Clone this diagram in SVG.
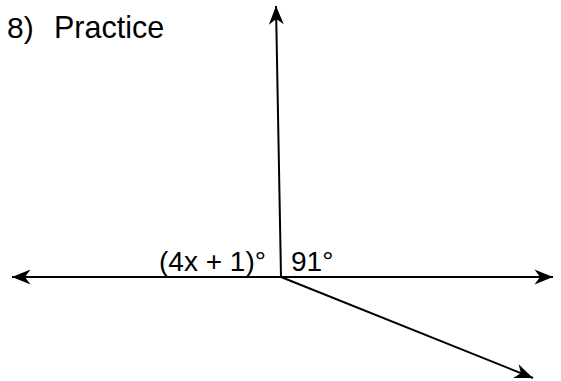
<svg xmlns="http://www.w3.org/2000/svg" width="561" height="381" viewBox="0 0 561 381">
<style>
.ray{stroke:#000;stroke-width:2;fill:none;marker-end:url(#arr)}
text{font-family:"Liberation Sans",Arial,sans-serif;fill:#000}
</style>
<defs>
<marker id="arr" markerUnits="userSpaceOnUse" markerWidth="24" markerHeight="20" refX="19" refY="8" orient="auto" viewBox="0 0 24 16">
<path d="M19,8 L0.5,0.5 L6,8 L0.5,15.5 Z" fill="#000"/>
</marker>
</defs>
<rect width="561" height="381" fill="#fff"/>
<g id="title"><text x="7" y="38" font-size="30">8)</text><text x="54" y="38" font-size="30.5">Practice</text></g>
<g id="connectors">
<line class="ray" x1="281" y1="277" x2="12" y2="277"/>
<line class="ray" x1="281" y1="277" x2="553" y2="277"/>
<line class="ray" x1="281" y1="277" x2="276" y2="6"/>
<line class="ray" x1="281" y1="277" x2="533" y2="378"/>
</g>
<g id="label-left"><text x="159" y="271" font-size="28">(4x + 1)°</text></g>
<g id="label-right"><text x="291" y="271" font-size="28">91°</text></g>
</svg>
